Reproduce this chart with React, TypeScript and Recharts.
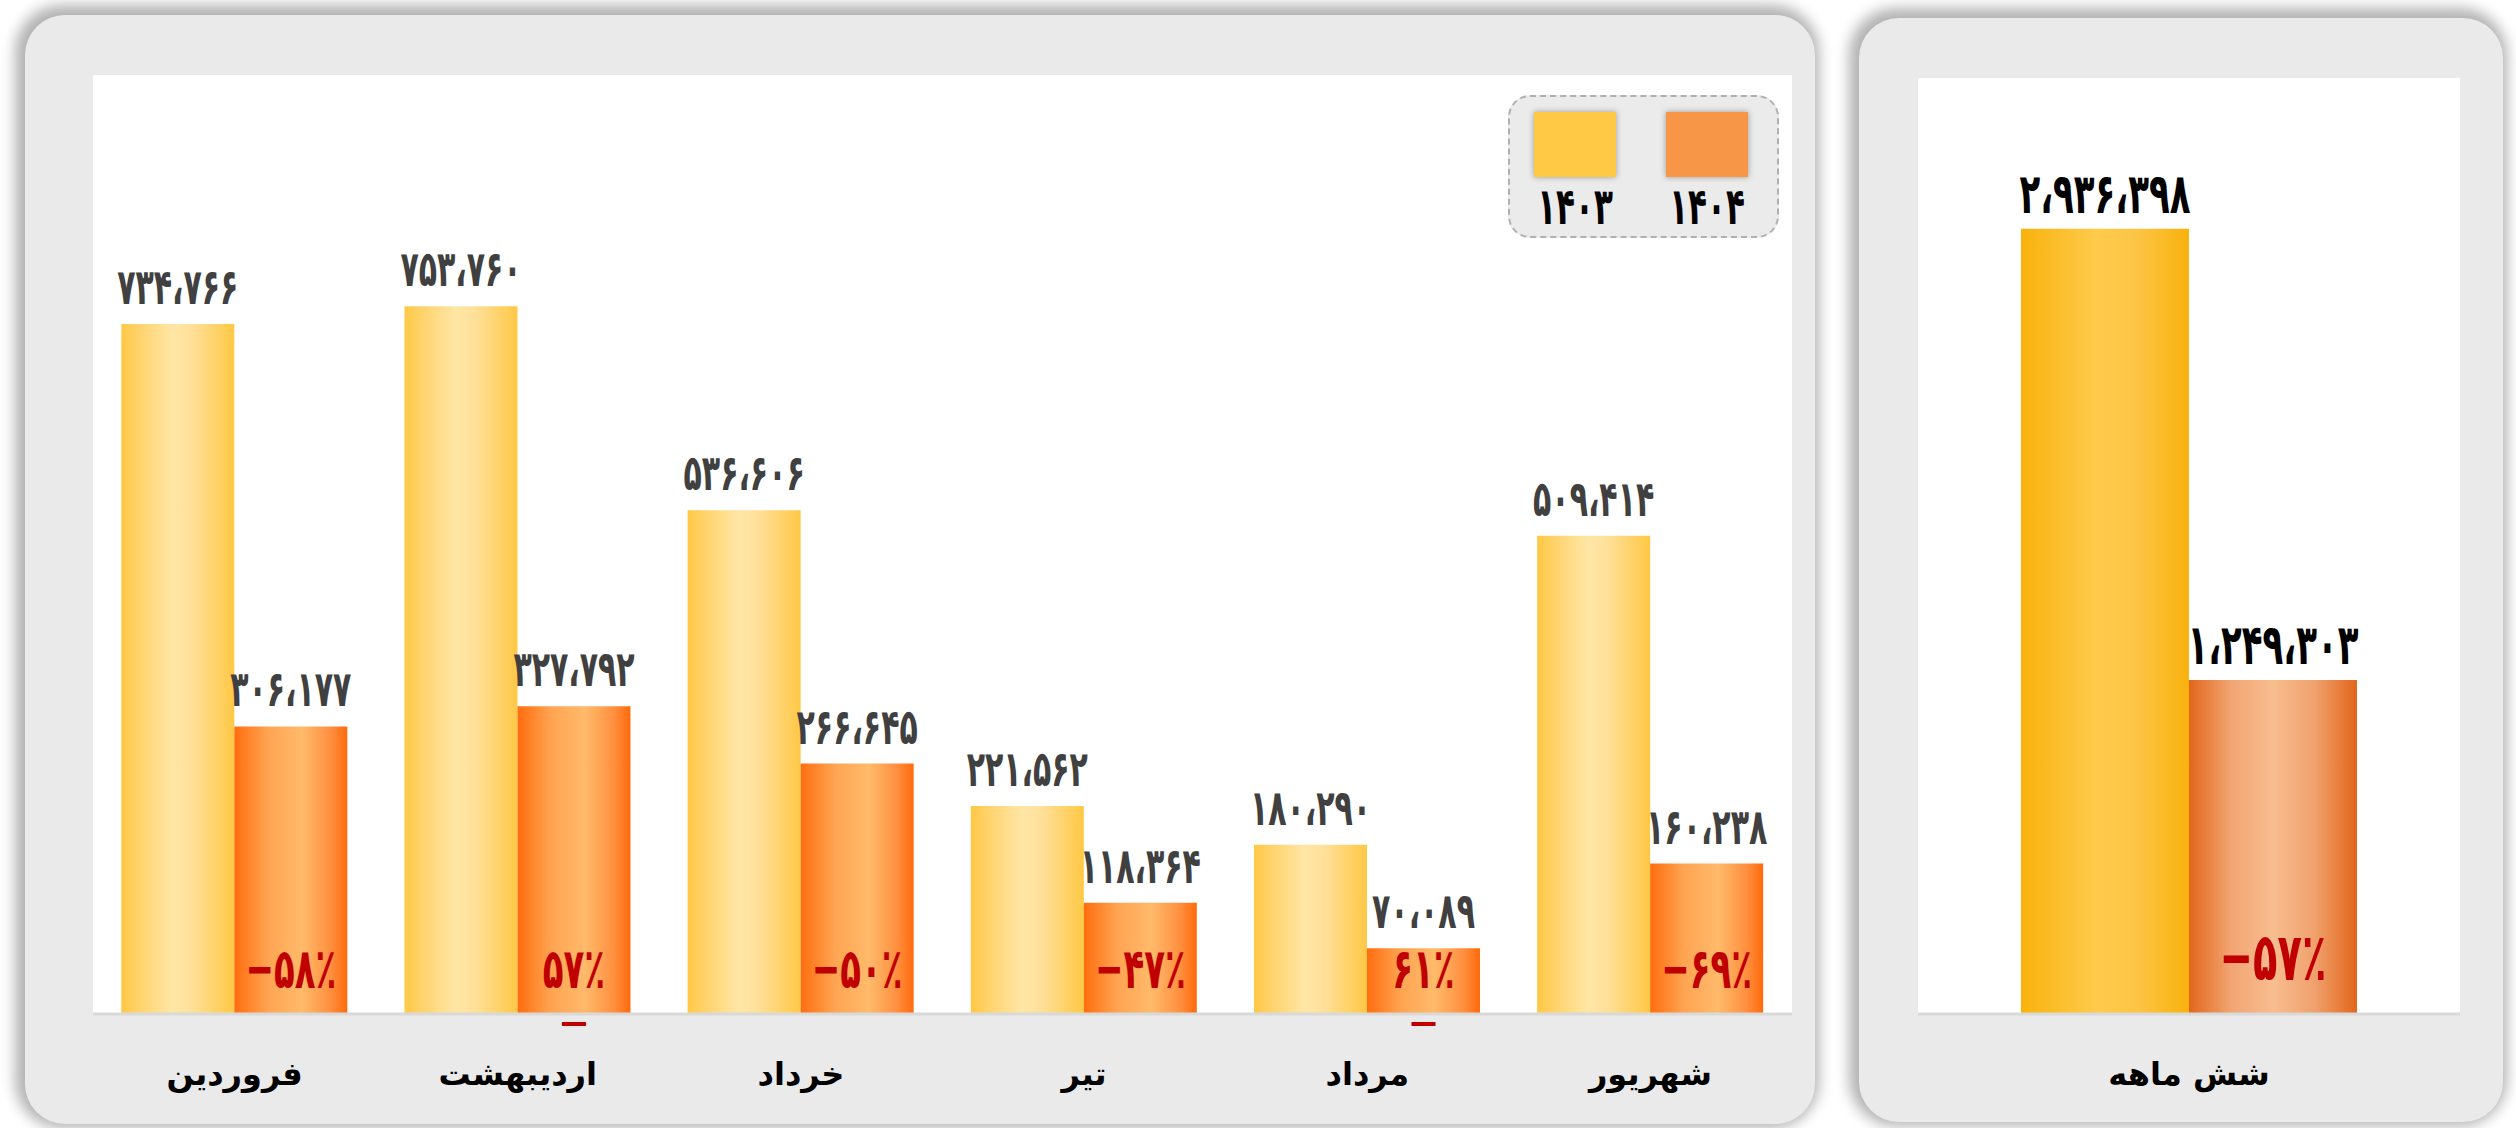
import { BarChart, Bar, XAxis, YAxis, LabelList } from 'recharts';

const months = ['فروردین', 'اردیبهشت', 'خرداد', 'تیر', 'مرداد', 'شهریور'];
const sales1403 = [734766, 753760, 536606, 221562, 180290, 509414];
const sales1404 = [306177, 327792, 266645, 118364, 70089, 160238];
const changePct = [-58, -57, -50, -47, -61, -69];
// labels whose minus sign slipped under the bar in the original
const minusBelow = [1, 4];

const totalLabel = ['شش ماهه'];
const total1403 = [2936398];
const total1404 = [1249303];
const totalPct = [-57];

const seriesNames = ['۱۴۰۳', '۱۴۰۴'];

const FONT = '"DejaVu Sans", sans-serif';
// the original uses a tall narrow Persian face, so stretch the digits a bit
const STRETCH = 1.65;

const monthData = months.map((m, i) => ({
  name: m,
  a: sales1403[i],
  b: sales1404[i],
  pct: changePct[i],
}));
const totalData = totalLabel.map((m, i) => ({
  name: m,
  a: total1403[i],
  b: total1404[i],
  pct: totalPct[i],
}));

const toFa = (n: number) =>
  Math.abs(n)
    .toLocaleString('en-US')
    .replace(/\d/g, (d) => '۰۱۲۳۴۵۶۷۸۹'[Number(d)])
    .replace(/,/g, '،');

const makeValueLabel = (size: number, color: string, gap: number) => (props: any) => {
  const { x, y, width, value } = props;
  const cx = Number(x) + Number(width) / 2;
  return (
    <text
      transform={`translate(${cx},${Number(y) - gap}) scale(1,${STRETCH})`}
      textAnchor="middle"
      fontSize={size}
      fontWeight={700}
      fontFamily={FONT}
      fill={color}
    >
      {toFa(value)}
    </text>
  );
};

const makePctLabel = (size: number, lift: number, shifted: number[]) => (props: any) => {
  const { x, y, width, height, value, index } = props;
  const cx = Number(x) + Number(width) / 2;
  const bottom = Number(y) + Number(height);
  const below = shifted.includes(index);
  return (
    <g>
      <text
        transform={`translate(${cx},${bottom - lift}) scale(1,${STRETCH})`}
        textAnchor="middle"
        fontSize={size}
        fontWeight={700}
        fontFamily={FONT}
        fill="#C00000"
      >
        {(below || value >= 0 ? '' : '−') + toFa(value) + '٪'}
      </text>
      {below && <rect x={cx - 12} y={bottom + 8} width={24} height={4} fill="#C00000" />}
    </g>
  );
};

const CategoryTick = (props: any) => {
  const { x, y, payload } = props;
  return (
    <text x={x} y={y} dy={71} textAnchor="middle" fontSize={32} fontWeight={700} fontFamily={FONT} fill="#000">
      {payload.value}
    </text>
  );
};

const panelStyle = (left: number, top: number, width: number, height: number): React.CSSProperties => ({
  position: 'absolute',
  left,
  top,
  width,
  height,
  background: '#eaeaea',
  borderRadius: 40,
  boxShadow: '-3px -3px 14px 7px rgba(0,0,0,0.3)',
});

export default function App() {
  return (
    <div style={{ position: 'absolute', left: 0, top: 0, width: 2516, height: 1128, background: '#fff', overflow: 'hidden', fontFamily: FONT }}>
      {/* monthly panel */}
      <div style={panelStyle(25, 15, 1790, 1109)}>
        <div style={{ position: 'absolute', left: 68, top: 60, width: 1699, height: 939, background: '#fff' }} />
        <div style={{ position: 'absolute', left: 68, top: 60 }}>
          <BarChart width={1699} height={1049} data={monthData} margin={{ top: 0, right: 0, bottom: 0, left: 0 }} barCategoryGap="10%" barGap={0}>
            <defs>
              <linearGradient id="gA" x1="0" y1="0" x2="1" y2="0">
                <stop offset="0%" stopColor="#FFC845" />
                <stop offset="15%" stopColor="#FFD26A" />
                <stop offset="45%" stopColor="#FFE6A6" />
                <stop offset="62%" stopColor="#FFE09A" />
                <stop offset="100%" stopColor="#FFC845" />
              </linearGradient>
              <linearGradient id="gB" x1="0" y1="0" x2="1" y2="0">
                <stop offset="0%" stopColor="#FF6D0E" />
                <stop offset="30%" stopColor="#FFA452" />
                <stop offset="60%" stopColor="#FFBA6A" />
                <stop offset="85%" stopColor="#FF9040" />
                <stop offset="100%" stopColor="#FF6A0A" />
              </linearGradient>
            </defs>
            <XAxis
              dataKey="name"
              height={110}
              tickLine={false}
              tickSize={0}
              tickMargin={0}
              interval={0}
              axisLine={{ stroke: '#d9d9d9', strokeWidth: 3 }}
              tick={<CategoryTick />}
            />
            <YAxis hide domain={[0, 1000000]} />
            <Bar dataKey="a" fill="url(#gA)" isAnimationActive={false}>
              <LabelList dataKey="a" content={makeValueLabel(30, '#404040', 20)} />
            </Bar>
            <Bar dataKey="b" fill="url(#gB)" isAnimationActive={false}>
              <LabelList dataKey="b" content={makeValueLabel(30, '#404040', 20)} />
              <LabelList dataKey="pct" content={makePctLabel(34, 26, minusBelow)} />
            </Bar>
          </BarChart>
        </div>
        {/* legend */}
        <div
          style={{
            position: 'absolute',
            left: 1483,
            top: 80,
            width: 267,
            height: 139,
            background: '#ebebeb',
            border: '2px dashed #b0b0b0',
            borderRadius: 22,
          }}
        >
          {['#FFC845', '#F79646'].map((c, i) => (
            <div key={i} style={{ position: 'absolute', left: 24 + i * 132, top: 15, width: 82 }}>
              <div style={{ width: 82, height: 65, background: c, boxShadow: '0 0 6px rgba(0,0,0,0.35)' }} />
              <div
                style={{
                  textAlign: 'center',
                  fontSize: 31,
                  fontWeight: 700,
                  marginTop: 11,
                  color: '#000',
                  transform: `scaleY(${STRETCH})`,
                }}
              >
                {seriesNames[i]}
              </div>
            </div>
          ))}
        </div>
      </div>

      {/* six-month total panel */}
      <div style={panelStyle(1859, 18, 644, 1104)}>
        <div style={{ position: 'absolute', left: 59, top: 60, width: 542, height: 936, background: '#fff' }} />
        <div style={{ position: 'absolute', left: 59, top: 60 }}>
          <BarChart width={542} height={1044} data={totalData} margin={{ top: 0, right: 0, bottom: 0, left: 0 }} barCategoryGap="19%" barGap={0}>
            <defs>
              <linearGradient id="tA" x1="0" y1="0" x2="1" y2="0">
                <stop offset="0%" stopColor="#F8B20C" />
                <stop offset="45%" stopColor="#FFCB4C" />
                <stop offset="70%" stopColor="#FDC444" />
                <stop offset="100%" stopColor="#F8B20C" />
              </linearGradient>
              <linearGradient id="tB" x1="0" y1="0" x2="1" y2="0">
                <stop offset="0%" stopColor="#E2661A" />
                <stop offset="25%" stopColor="#F2A473" />
                <stop offset="50%" stopColor="#F8BD8F" />
                <stop offset="75%" stopColor="#F0A06D" />
                <stop offset="100%" stopColor="#E2661A" />
              </linearGradient>
            </defs>
            <XAxis
              dataKey="name"
              height={108}
              tickLine={false}
              tickSize={0}
              tickMargin={0}
              interval={0}
              axisLine={{ stroke: '#d9d9d9', strokeWidth: 3 }}
              tick={<CategoryTick />}
            />
            <YAxis hide domain={[0, 3500000]} />
            <Bar dataKey="a" fill="url(#tA)" isAnimationActive={false}>
              <LabelList dataKey="a" content={makeValueLabel(34, '#000', 16)} />
            </Bar>
            <Bar dataKey="b" fill="url(#tB)" isAnimationActive={false}>
              <LabelList dataKey="b" content={makeValueLabel(34, '#000', 16)} />
              <LabelList dataKey="pct" content={makePctLabel(40, 34, [])} />
            </Bar>
          </BarChart>
        </div>
      </div>
    </div>
  );
}
